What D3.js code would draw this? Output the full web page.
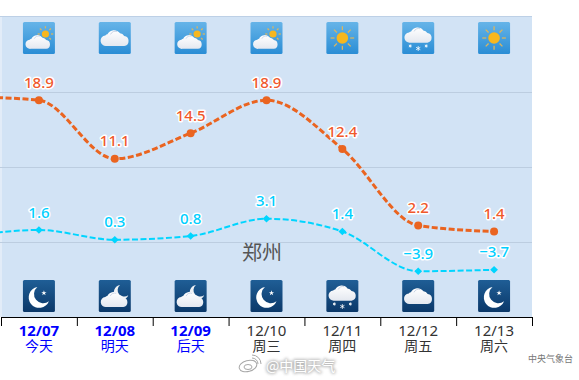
<!DOCTYPE html>
<html>
<head>
<meta charset="utf-8">
<script src="https://cdn.jsdelivr.net/npm/d3@7"></script>
<style>
html, body { margin: 0; padding: 0; background: #fff; }
svg { display: block; }
</style>
</head>
<body>
<svg id="regen" width="579" height="380"></svg>
<script>
const dates = ["12/07", "12/08", "12/09", "12/10", "12/11", "12/12", "12/13"]
const weekdays = ["今天", "明天", "后天", "周三", "周四", "周五", "周六"]
const highs = [18.9, 11.1, 14.5, 18.9, 12.4, 2.2, 1.4]
const lows = [1.6, 0.3, 0.8, 3.1, 1.4, -3.9, -3.7]
// the day before the first one, only its line shows at the left edge
const prevHigh = 19.4
const prevLow = 0.7
const dayIcons = ["partly", "cloud", "partly", "partly", "sun", "snow", "sun"]
const nightIcons = ["moon", "cloudmoon", "cloudmoon", "moon", "snow", "cloud", "moon"]
const highlighted = 3
const yTicks = [0, 10, 20]

const svg = d3.select("#regen")
const scale_i = d3.scaleLinear().domain([0, 7]).range([1, 532])
const scale_y = d3.scaleLinear().domain([30, -10]).range([17, 317])
const mid = (i) => scale_i(i + 0.5)

const defs = svg.append("defs")
function grad(id, top, bottom) {
    const g = defs.append("linearGradient").attr("id", id)
        .attr("x1", 0).attr("y1", 0).attr("x2", 0).attr("y2", 1)
    g.append("stop").attr("offset", "0%").attr("stop-color", top)
    g.append("stop").attr("offset", "100%").attr("stop-color", bottom)
}
grad("day_bg", "#66B4E8", "#2A8DD5")
grad("night_bg", "#1F5E96", "#0B3869")
grad("cloud_fill", "#FFFFFF", "#E4E8F0")
const halo = defs.append("filter").attr("id", "blur")
    .attr("x", "-10%").attr("y", "-40%").attr("width", "120%").attr("height", "180%")
halo.append("feGaussianBlur").attr("stdDeviation", 1.6)

// plot background
svg.append("rect").attr("x", 2).attr("y", 16).attr("width", 530).attr("height", 301).attr("fill", "#D2E3F5")
svg.append("rect").attr("x", 0).attr("y", 16).attr("width", 2).attr("height", 301).attr("fill", "#E2ECF8")
svg.append("line").attr("x1", 0).attr("x2", 532).attr("y1", 16.5).attr("y2", 16.5).attr("stroke", "#BDD0E6")

svg.append("g").selectAll("line")
    .data(yTicks)
    .join("line")
    .attr("x1", 0).attr("x2", 532)
    .attr("y1", (d) => Math.round(scale_y(d)) + 0.5)
    .attr("y2", (d) => Math.round(scale_y(d)) + 0.5)
    .attr("stroke", "#BCCDE0")

// bottom axis with day boundaries
const axis_x = d3.axisBottom(scale_i).tickValues(d3.range(8)).tickFormat("").tickSize(9).tickSizeOuter(0)
const axisG = svg.append("g").attr("transform", "translate(0, 317)").call(axis_x)
axisG.selectAll("path, line").attr("stroke", "#000")

function cloud(g, dx, dy, k, fill) {
    const c = g.append("g").attr("transform", `translate(${dx},${dy}) scale(${k})`).attr("fill", fill || "url(#cloud_fill)")
    c.append("path").attr("d", "M-8,8 A5,5 0 0 1 -9,-2 Q-8,-3 -7,-3 A7,7 0 0 1 5,-4 A5.6,5.6 0 0 1 9,-1.5 A4.8,4.8 0 0 1 9,8 Z")
    c.append("path").attr("d", "M-4,-3 A4.6,4.6 0 0 1 2,-5.6").attr("fill", "none").attr("stroke", "#B9C6DC").attr("stroke-width", 0.7)
}
function sun(g, dx, dy, r, len) {
    const s = g.append("g").attr("transform", `translate(${dx},${dy})`)
    s.selectAll("line").data(d3.range(8)).join("line")
        .attr("x1", (d) => Math.cos(d * Math.PI / 4) * (r + 2))
        .attr("y1", (d) => Math.sin(d * Math.PI / 4) * (r + 2))
        .attr("x2", (d) => Math.cos(d * Math.PI / 4) * (r + 2 + len))
        .attr("y2", (d) => Math.sin(d * Math.PI / 4) * (r + 2 + len))
        .attr("stroke", "#D9B560").attr("stroke-width", 1.3)
    s.append("circle").attr("r", r).attr("fill", "#F7B71E")
}
function moon(g, dx, dy, r, fill) {
    g.append("path").attr("transform", `translate(${dx},${dy})`).attr("fill", fill || "#FFFFFF")
        .attr("d", `M${-0.1 * r},${-r} A${r},${r} 0 1 0 ${r},${0.35 * r} A${0.85 * r},${0.85 * r} 0 0 1 ${-0.1 * r},${-r} Z`)
}
function flakes(g) {
    const f = g.append("g").attr("fill", "#FFFFFF")
    f.selectAll("path").data([[-8, 8, 7], [0, 10.5, 16], [8, 8, 7]]).join("path")
        .attr("transform", (d) => `translate(${d[0]},${d[1]})`)
        .attr("d", (d) => d3.symbol(d3.symbolAsterisk, d[2])())
        .attr("stroke", "#FFFFFF").attr("stroke-width", 0.8)
}
const painters = {
    partly: (g) => { sun(g, 6.5, -4, 3.6, 2.2); cloud(g, -1, 3.5, 0.92) },
    cloud: (g) => cloud(g, 0, -0.5, 1.05),
    sun: (g) => sun(g, 0, 0, 5.8, 4),
    snow: (g) => { cloud(g, 0, -3.5, 1.02); flakes(g) },
    moon: (g) => {
        moon(g, -0.5, 1.5, 10.5)
        g.append("path").attr("fill", "#FFFFFF").attr("transform", "translate(5,-3)")
            .attr("d", d3.symbol(d3.symbolStar, 9)())
    },
    cloudmoon: (g) => { moon(g, 6, -3.5, 7.5, "#F0F2F5"); cloud(g, -0.5, 3, 1) },
}
function drawIcons(kinds, y, bg) {
    const icons = svg.append("g").selectAll("g")
        .data(kinds)
        .join("g")
        .attr("transform", (d, i) => `translate(${mid(i)},${y})`)
    icons.append("rect").attr("x", -16).attr("y", -16).attr("width", 32).attr("height", 32).attr("rx", 1.5)
        .attr("fill", bg)
    icons.each(function (d) { painters[d](d3.select(this)) })
}
drawIcons(dayIcons, 38, "url(#day_bg)")
drawIcons(nightIcons, 296, "url(#night_bg)")

// city name sits under the lines
svg.append("text").attr("x", 262).attr("y", 260).attr("text-anchor", "middle")
    .attr("font-family", "'Noto Sans CJK SC'").attr("font-size", 20).attr("fill", "#555").text("郑州")

const line = d3.line()
    .x((d) => scale_i(d.i + 0.5))
    .y((d) => scale_y(d.v))
    .curve(d3.curveMonotoneX)

function drawSeries(values, prev, color, width, dash, labelColor) {
    const pts = [{ i: -1, v: prev }].concat(values.map((v, i) => ({ i, v })))
    const g = svg.append("g")
    g.append("path").attr("fill", "none").attr("stroke", color)
        .attr("stroke-width", width).attr("stroke-dasharray", dash).attr("d", line(pts))
    const diamond = width < 3
    g.selectAll("path.mark").data(pts.slice(1)).join("path").attr("class", "mark")
        .attr("transform", (d) => `translate(${mid(d.i)},${scale_y(d.v)})` + (diamond ? " rotate(45)" : ""))
        .attr("d", diamond ? d3.symbol(d3.symbolSquare, 30)() : d3.symbol(d3.symbolCircle, 50)())
        .attr("fill", color)
    g.selectAll("text").data(pts.slice(1)).join("text")
        .attr("x", (d) => mid(d.i)).attr("y", (d) => scale_y(d.v) - 12.5)
        .attr("text-anchor", "middle")
        .attr("font-family", "'Noto Sans'").attr("font-size", 15).attr("font-weight", 500)
        .attr("fill", labelColor).attr("stroke", "#FFF").attr("stroke-width", 3)
        .attr("stroke-linejoin", "round").attr("paint-order", "stroke")
        .text((d) => d.v < 0 ? "−" + Math.abs(d.v) : d.v.toFixed(1))
}
drawSeries(lows, prevLow, "#00D5FF", 2, "6,2.5", "#00CFFF")
drawSeries(highs, prevHigh, "#EA6420", 3, "6,2.5", "#F0582B")

// date and weekday labels
const days = svg.append("g").attr("text-anchor", "middle")
days.selectAll("text.date").data(dates).join("text").attr("class", "date")
    .attr("x", (d, i) => mid(i)).attr("y", 336).attr("font-size", 15).attr("font-family", "'Noto Sans'")
    .attr("font-weight", (d, i) => i < highlighted ? "bold" : "normal")
    .attr("fill", (d, i) => i < highlighted ? "#0000FF" : "#333").text((d) => d)
days.selectAll("text.week").data(weekdays).join("text").attr("class", "week")
    .attr("x", (d, i) => mid(i)).attr("y", 351).attr("font-size", 14).attr("font-family", "'Noto Sans CJK SC'")
    .attr("fill", (d, i) => i < highlighted ? "#0000FF" : "#333").text((d) => d)

svg.append("text").attr("x", 573).attr("y", 362).attr("text-anchor", "end")
    .attr("font-family", "'Noto Sans CJK SC'").attr("font-size", 9).attr("fill", "#777").text("中央气象台")

// weibo watermark
const mark = svg.append("g").attr("font-family", "'Noto Sans CJK SC'").attr("font-size", 14)
mark.append("text").attr("x", 266).attr("y", 371).attr("fill", "#888").attr("opacity", 0.55)
    .attr("filter", "url(#blur)").attr("stroke", "#888").attr("stroke-width", 2).text("@中国天气")
mark.append("text").attr("x", 266).attr("y", 371).attr("fill", "#FFF").text("@中国天气")
const logo = svg.append("g").attr("transform", "translate(248,366)").attr("fill", "none").attr("stroke", "#A8A8A8")
logo.append("ellipse").attr("rx", 9).attr("ry", 5.5).attr("transform", "rotate(-15)")
logo.append("ellipse").attr("rx", 4).attr("ry", 2.5).attr("cy", 1)
logo.append("path").attr("d", "M4,-11 A9,9 0 0 1 13,-2 M4,-8 A6,6 0 0 1 10,-2")
</script>
</body>
</html>
